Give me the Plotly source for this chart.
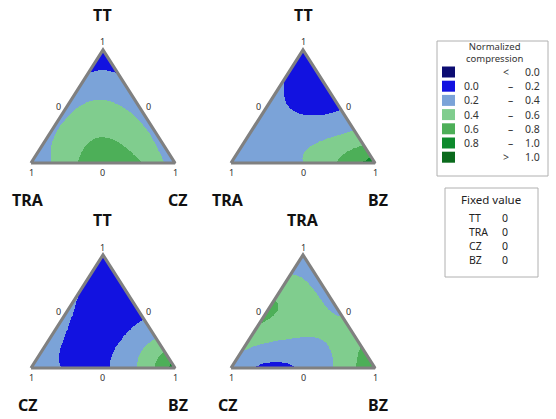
import numpy as np
import plotly.graph_objects as go

# ---------------------------------------------------------------------------
# Simplex-lattice {3,4} blends: fractions of the top, left and right component
# ---------------------------------------------------------------------------
blend_top   = [1.00, 0.00, 0.00, 0.75, 0.50, 0.25, 0.75, 0.50, 0.25, 0.00, 0.00, 0.00, 0.50, 0.25, 0.25]
blend_left  = [0.00, 1.00, 0.00, 0.25, 0.50, 0.75, 0.00, 0.00, 0.00, 0.75, 0.50, 0.25, 0.25, 0.50, 0.25]
blend_right = [0.00, 0.00, 1.00, 0.00, 0.00, 0.00, 0.25, 0.50, 0.75, 0.25, 0.50, 0.75, 0.25, 0.25, 0.50]

# Normalized compression measured at each blend, one list per ternary face
resp_tt_tra_cz = [0.10, 0.30, 0.30, 0.22, 0.33, 0.36, 0.22, 0.33, 0.36, 0.52, 0.72, 0.62, 0.44, 0.56, 0.55]
resp_tt_tra_bz = [0.10, 0.30, 0.90, 0.19, 0.30, 0.30, 0.10, 0.18, 0.45, 0.30, 0.40, 0.62, 0.16, 0.30, 0.35]
resp_tt_cz_bz  = [0.10, 0.32, 0.90, 0.15, 0.28, 0.33, 0.10, 0.15, 0.42, 0.18, 0.17, 0.42, 0.06, 0.11, 0.20]
resp_tra_cz_bz = [0.30, 0.36, 0.85, 0.48, 0.63, 0.50, 0.33, 0.38, 0.55, 0.17, 0.23, 0.45, 0.50, 0.40, 0.40]

# (top, left, right) component of each face
panel_components = [("TT", "TRA", "CZ"), ("TT", "TRA", "BZ"), ("TT", "CZ", "BZ"), ("TRA", "CZ", "BZ")]
panel_responses = [resp_tt_tra_cz, resp_tt_tra_bz, resp_tt_cz_bz, resp_tra_cz_bz]

# Contour bands
band_low = [None, 0.0, 0.2, 0.4, 0.6, 0.8, None]
band_high = [0.0, 0.2, 0.4, 0.6, 0.8, 1.0, 1.0]
band_colors = ["#0c0c72", "#1212e0", "#7ba3d8", "#80cd8e", "#4daf58", "#0d8a2c", "#0a6a1c"]
legend_title = "Normalized<br>compression"

fixed_names = ["TT", "TRA", "CZ", "BZ"]
fixed_values = [0, 0, 0, 0]

# ---------------------------------------------------------------------------
W, H = 556, 419
# triangle placement in pixels: (left x, right x, apex y, base y)
panel_px = [(31, 175, 50, 163), (231, 375, 50, 163), (31, 175, 255, 368), (231, 375, 255, 368)]
PAD = 0.1


def px2paper(px, py):
    return px / W, 1 - py / H


def scheffe_quartic(a, b, c):
    return np.stack([
        a, b, c,
        a * b, a * c, b * c,
        a * b * (a - b), a * c * (a - c), b * c * (b - c),
        a * b * (a - b) ** 2, a * c * (a - c) ** 2, b * c * (b - c) ** 2,
        a * a * b * c, a * b * b * c, a * b * c * c,
    ], axis=-1)


design = scheffe_quartic(np.array(blend_top), np.array(blend_left), np.array(blend_right))

N = 260
gx = np.linspace(0, 1, N)
gy = np.linspace(0, 1, N)
GX, GY = np.meshgrid(gx, gy)
A = GY
C = GX - 0.5 * GY
B = 1 - A - C
inside = (B >= -1e-9) & (C >= -1e-9)

# stepped colour scale over [-0.2, 1.2]
zmin, zmax = -0.2, 1.2
nb = len(band_colors)
colorscale = []
for i, col in enumerate(band_colors):
    colorscale.append([i / nb, col])
    colorscale.append([(i + 1) / nb, col])

fig = go.Figure()
annotations = []
shapes = []
label_font = dict(family="Noto Sans", size=16, color="#111111")
tick_font = dict(family="Noto Sans", size=9, color="#333333")

for k, (comps, resp) in enumerate(zip(panel_components, panel_responses)):
    coef, *_ = np.linalg.lstsq(design, np.array(resp), rcond=None)
    Z = scheffe_quartic(A, B, C) @ coef
    Z = np.where(inside, Z, np.nan)

    sfx = "" if k == 0 else str(k + 1)
    lx, rx, ty, by = panel_px[k]
    sx = rx - lx
    sy = by - ty
    x0 = (lx - PAD * sx) / W
    x1 = (rx + PAD * sx) / W
    y0 = 1 - (by + PAD * sy) / H
    y1 = 1 - (ty - PAD * sy) / H
    fig.update_layout(**{
        "xaxis" + sfx: dict(domain=[x0, x1], range=[-PAD, 1 + PAD], visible=False, fixedrange=True),
        "yaxis" + sfx: dict(domain=[y0, y1], range=[-PAD, 1 + PAD], visible=False, fixedrange=True),
    })

    fig.add_trace(go.Heatmap(
        x=gx, y=gy, z=Z, zmin=zmin, zmax=zmax, colorscale=colorscale,
        showscale=False, hoverinfo="skip", zsmooth=False,
        xaxis="x" + sfx, yaxis="y" + sfx,
    ))
    fig.add_trace(go.Scatter(
        x=[0, 1, 0.5, 0], y=[0, 0, 1, 0], mode="lines",
        line=dict(color="#808080", width=3.2), hoverinfo="skip", showlegend=False,
        xaxis="x" + sfx, yaxis="y" + sfx,
    ))

    mx = (lx + rx) / 2
    top, left, right = comps
    # component names
    for txt, px, py in [(top, mx, ty - 35), (left, lx - 3, by + 37), (right, rx + 3, by + 37)]:
        xp, yp = px2paper(px, py)
        annotations.append(dict(x=xp, y=yp, xref="paper", yref="paper", text="<b>%s</b>" % txt,
                                showarrow=False, font=label_font, xanchor="center", yanchor="middle"))
    # axis tick values
    for txt, px, py in [("1", mx, ty - 8), ("1", lx, by + 9), ("1", rx, by + 9), ("0", mx, by + 9),
                        ("0", (lx + mx) / 2 - 9, (ty + by) / 2), ("0", (rx + mx) / 2 + 9, (ty + by) / 2)]:
        xp, yp = px2paper(px, py)
        annotations.append(dict(x=xp, y=yp, xref="paper", yref="paper", text=txt,
                                showarrow=False, font=tick_font, xanchor="center", yanchor="middle"))

# ---------------------------------------------------------------------------
# contour legend box
shapes.append(dict(type="rect", xref="paper", yref="paper",
                   x0=437 / W, x1=548 / W, y0=1 - 176 / H, y1=1 - 41 / H,
                   line=dict(color="#b0b0b0", width=1), fillcolor="white"))
leg_font = dict(family="Noto Sans", size=10.5, color="#333333")
xp, yp = px2paper(494, 53)
annotations.append(dict(x=xp, y=yp, xref="paper", yref="paper", text=legend_title, showarrow=False,
                        font=dict(family="Noto Sans", size=9.5, color="#333333"),
                        xanchor="center", yanchor="middle", align="center"))
row_y0, row_dy = 72, 14.2
for i, col in enumerate(band_colors):
    ry = row_y0 + row_dy * i
    shapes.append(dict(type="rect", xref="paper", yref="paper",
                       x0=442 / W, x1=455 / W, y0=1 - (ry + 5.5) / H, y1=1 - (ry - 5.5) / H,
                       line=dict(width=0), fillcolor=col))
    lo, hi = band_low[i], band_high[i]
    if lo is None:
        parts = [("<" if i == 0 else ">", 506), ("%.1f" % hi, 532)]
    else:
        parts = [("%.1f" % lo, 471), ("\u2013", 511), ("%.1f" % hi, 532)]
    for txt, px in parts:
        xp, yp = px2paper(px, ry)
        annotations.append(dict(x=xp, y=yp, xref="paper", yref="paper", text=txt, showarrow=False,
                                font=leg_font, xanchor="center", yanchor="middle"))

# fixed value box
shapes.append(dict(type="rect", xref="paper", yref="paper",
                   x0=445 / W, x1=538 / W, y0=1 - 277 / H, y1=1 - 188 / H,
                   line=dict(color="#b0b0b0", width=1), fillcolor="white"))
xp, yp = px2paper(491, 200)
annotations.append(dict(x=xp, y=yp, xref="paper", yref="paper", text="Fixed value", showarrow=False,
                        font=dict(family="Noto Sans", size=11.5, color="#222222"),
                        xanchor="center", yanchor="middle"))
for i, (nm, val) in enumerate(zip(fixed_names, fixed_values)):
    ry = 218 + 14 * i
    xp, yp = px2paper(467, ry)
    annotations.append(dict(x=xp, y=yp, xref="paper", yref="paper", text=nm, showarrow=False,
                            font=dict(family="Noto Sans", size=10.5, color="#222222"),
                            xanchor="left", yanchor="middle"))
    xp, yp = px2paper(505, ry)
    annotations.append(dict(x=xp, y=yp, xref="paper", yref="paper", text=str(val), showarrow=False,
                            font=dict(family="Noto Sans", size=10.5, color="#222222"),
                            xanchor="center", yanchor="middle"))

fig.update_layout(
    width=W, height=H, margin=dict(l=0, r=0, t=0, b=0),
    paper_bgcolor="white", plot_bgcolor="rgba(0,0,0,0)",
    showlegend=False, annotations=annotations, shapes=shapes,
)

fig.write_html("out.html")
